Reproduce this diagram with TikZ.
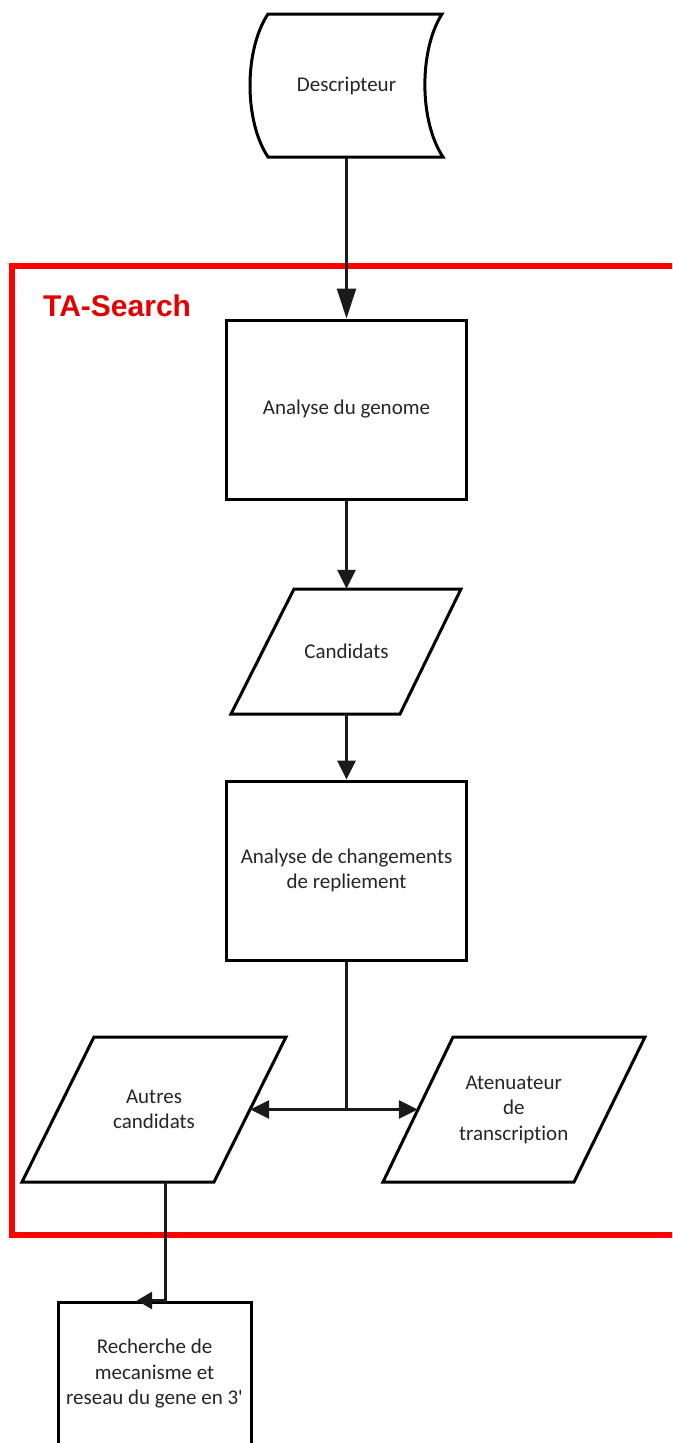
\documentclass[tikz,border=0pt]{standalone}
\usepackage{fontspec}
\setmainfont{Carlito}[Ligatures={TeXOff,NoCommon}]
\newfontfamily\headfont{Liberation Sans}
\usetikzlibrary{arrows.meta}
\definecolor{ink}{HTML}{262626}
\definecolor{wire}{HTML}{1A1A1A}
\begin{document}
\begin{tikzpicture}[x=1pt,y=-1pt,
  txt/.style={align=center, inner sep=0pt, text=ink,
    font=\fontsize{21}{25.5}\selectfont},
  procbox/.style={txt, draw=black, line width=3pt, fill=white,
    minimum width=240pt, minimum height=179pt},
  outline/.style={draw=black, line width=3pt, line join=miter, fill=white},
  conn/.style={draw=wire, line width=2.7pt},
  arr/.style={conn, -{Triangle[length=19pt,width=18pt]}},
]
\useasboundingbox (0,0) rectangle (672,1443);
\clip (0,0) rectangle (672,1443);

% TA-Search frame
\draw[red, line width=6pt] (12,266) rectangle (720,1235);
\node[anchor=base west, inner sep=0pt, text=red!90!black,
      font=\headfont\bfseries\fontsize{30}{30}\selectfont]
  (title) at (43,316) {TA-Search};

% stored data shape
\draw[outline] (268,14) -- (442,14)
  .. controls (419,50) and (419,121) .. (443,157)
  -- (268,157)
  .. controls (244,121) and (244,50) .. (268,14) -- cycle;
\node[txt, minimum height=143pt] (desc) at (346.5,86) {Descripteur};

% processes
\node[procbox] (gen) at (346.5,409.5) {Analyse du genome};
\node[procbox] (chg) at (346.5,870.5) {Analyse de changements\\de repliement};
\node[procbox, minimum width=193pt, minimum height=143pt] (rech)
  at (154.5,1373.5) {Recherche de\\mecanisme et\\reseau du gene en 3'};

% data (parallelograms)
\draw[outline] (294,589) -- (461,589) -- (400,714) -- (231,714) -- cycle;
\node[txt, minimum height=125pt] (cand) at (346.5,651.5) {Candidats};

\draw[outline] (94,1037) -- (286,1037) -- (214,1182) -- (22,1182) -- cycle;
\node[txt, minimum width=192pt, minimum height=145pt] (autres)
  at (154,1109.5) {Autres\\candidats};

\draw[outline] (453,1037) -- (645,1037) -- (574,1182) -- (383,1182) -- cycle;
\node[txt, minimum width=191.5pt, minimum height=145pt] (aten)
  at (513.75,1109.5) {Atenuateur\\de\\transcription};

% connectors
\draw[conn, -{Triangle[length=30pt,width=19pt]}] (desc.south) -- (gen.north);
\draw[arr] (gen.south) -- (cand.north);
\draw[arr] (cand.south) -- (chg.north);
\coordinate (split) at (chg.south |- autres.east);
\draw[conn] (chg.south) -- (split);
\draw[arr] (split) -- (autres.east);
\draw[arr] (split) -- (aten.west);
\draw[conn, -{Triangle[length=15pt,width=17pt]}]
  ([xshift=11.5pt]autres.south) |- ([xshift=-17.5pt]rech.north);
\end{tikzpicture}
\end{document}
